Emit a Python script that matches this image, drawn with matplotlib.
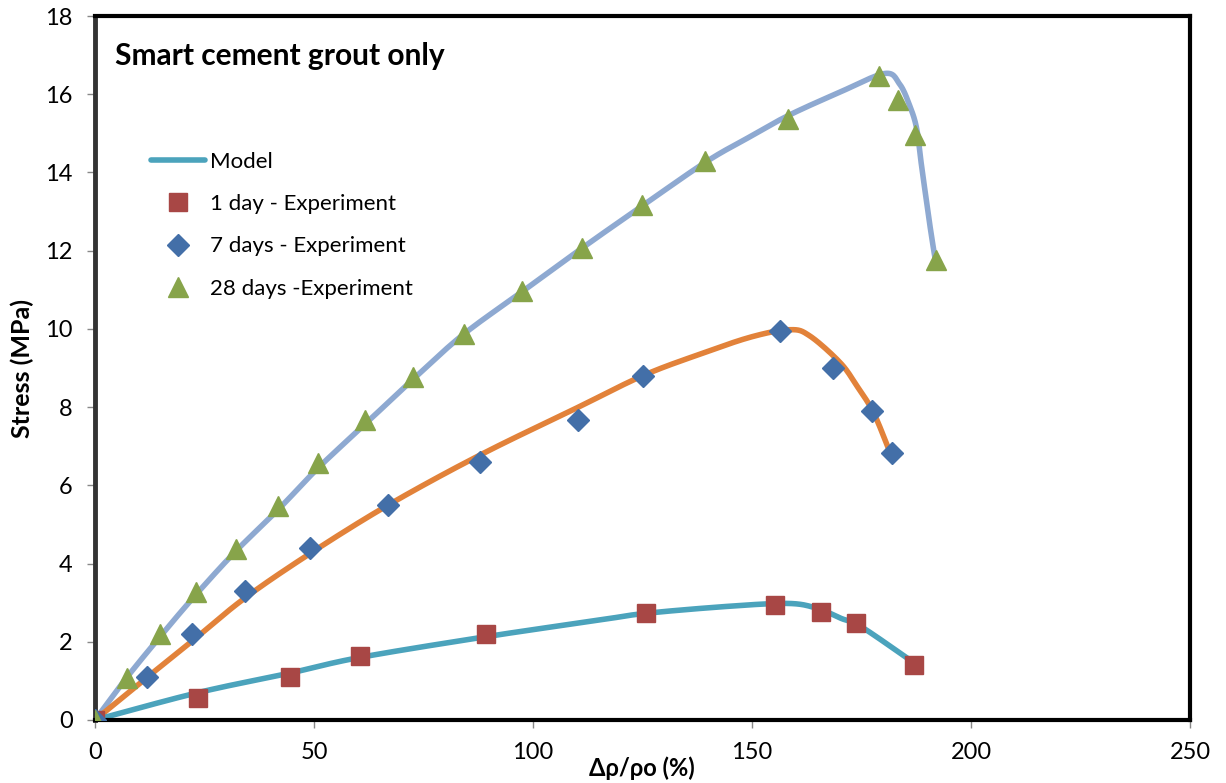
import numpy as np
import matplotlib
matplotlib.use("Agg")
import matplotlib.pyplot as plt
from matplotlib.lines import Line2D

plt.rcParams['font.family'] = ['Lato', 'DejaVu Sans']

# experiment data
x_1day = [0, 23.5, 44.5, 60.5, 89.3, 125.8, 155.2, 165.7, 173.7, 186.9]
y_1day = [0, 0.56, 1.10, 1.64, 2.20, 2.74, 2.94, 2.75, 2.47, 1.41]

x_7day = [0, 11.8, 22.2, 34.2, 49.1, 66.9, 87.9, 110.3, 125.1, 156.4, 168.4, 177.3, 181.9]
y_7day = [0, 1.10, 2.20, 3.30, 4.40, 5.50, 6.60, 7.67, 8.80, 9.95, 9.01, 7.90, 6.82]

x_28day = [0, 7.3, 14.9, 23.0, 32.2, 41.8, 50.9, 61.6, 72.6, 84.2, 97.5, 111.2, 124.9,
           139.3, 158.2, 179.0, 183.4, 187.2, 192.0]
y_28day = [0, 1.08, 2.20, 3.28, 4.38, 5.48, 6.58, 7.68, 8.78, 9.88, 10.97, 12.07, 13.17,
           14.28, 15.37, 16.47, 15.84, 14.95, 11.75]

# model curves
xm_1day = [0, 23.5, 44.5, 60.5, 89.3, 115.4, 126.0, 145.0, 158.4, 165.0, 170.3, 175.0, 186.5]
ym_1day = [0, 0.70, 1.20, 1.60, 2.13, 2.56, 2.73, 2.91, 2.98, 2.85, 2.60, 2.38, 1.50]

xm_7day = [0, 12, 22, 34, 49, 67, 88, 110, 125, 138, 150, 158.7, 163.2, 170.1, 173.9, 177.7, 181.3]
ym_7day = [0, 1.10, 2.00, 3.10, 4.25, 5.50, 6.78, 7.98, 8.80, 9.35, 9.80, 9.98, 9.82, 9.14, 8.55, 7.87, 6.90]

xm_28day = [0, 7, 15, 23, 32, 42, 51, 62, 73, 84, 97.5, 111, 125, 139.5, 149, 158.2, 170,
            180.3, 183.7, 186.0, 187.6, 188.7, 190.6, 191.8]
ym_28day = [0, 1.05, 2.15, 3.20, 4.30, 5.40, 6.45, 7.60, 8.75, 9.85, 10.95, 12.05, 13.15,
            14.27, 14.88, 15.45, 16.05, 16.53, 16.26, 15.71, 15.12, 14.18, 12.66, 11.80]

xticks = [0, 50, 100, 150, 200, 250]
yticks = [0, 2, 4, 6, 8, 10, 12, 14, 16, 18]


def smooth(xs, ys, n=16):
    # catmull-rom, like the smoothed lines of a spreadsheet chart
    p = np.column_stack([xs, ys]).astype(float)
    p = np.vstack([p[0], p, p[-1]])
    out = []
    for i in range(1, len(p) - 2):
        p0, p1, p2, p3 = p[i - 1], p[i], p[i + 1], p[i + 2]
        t = np.linspace(0, 1, n, endpoint=False)[:, None]
        c = 0.5 * ((2 * p1) + (-p0 + p2) * t + (2 * p0 - 5 * p1 + 4 * p2 - p3) * t ** 2
                   + (-p0 + 3 * p1 - 3 * p2 + p3) * t ** 3)
        out.append(c)
    out.append(p[-2][None, :])
    out = np.vstack(out)
    return out[:, 0], out[:, 1]


c_teal = '#4BA3BC'
c_orange = '#E2823A'
c_lblue = '#8EA9D1'
c_red = '#A84745'
c_blue = '#436FA8'
c_green = '#87A44A'

fig = plt.figure(figsize=(12.26, 7.83), dpi=100)
ax = fig.add_axes([95 / 1226, 1 - 720 / 783, 1095 / 1226, 704 / 783])

for xs, ys, col in [(xm_28day, ym_28day, c_lblue), (xm_7day, ym_7day, c_orange),
                    (xm_1day, ym_1day, c_teal)]:
    sx, sy = smooth(xs, ys)
    ax.plot(sx, sy, color=col, lw=4, solid_capstyle='round', zorder=2)

ax.plot(x_1day, y_1day, 's', color=c_red, ms=13, ls='none', zorder=3)
ax.plot(x_7day, y_7day, 'D', color=c_blue, ms=11, ls='none', zorder=3)
ax.plot(x_28day, y_28day, '^', color=c_green, ms=15, ls='none', zorder=3)

ax.set_xlim(0, 250)
ax.set_ylim(0, 18)
ax.set_xticks(xticks)
ax.set_yticks(yticks)
ax.tick_params(direction='out', length=6, width=1, color='#888888', labelsize=17)
ax.tick_params(axis='x', pad=10)
ax.tick_params(axis='y', pad=10)
for s in ['top', 'right', 'bottom']:
    ax.spines[s].set_linewidth(3)
    ax.spines[s].set_color('black')
ax.spines['left'].set_linewidth(3.5)
ax.spines['left'].set_color('#333333')

ax.set_xlabel('Δρ/ρo (%)', fontsize=17, fontweight='bold', va='center')
ax.xaxis.set_label_coords((642 - 95) / 1095, -48 / 704)
ax.set_ylabel('Stress (MPa)', fontsize=18, fontweight='bold', va='center')
ax.yaxis.set_label_coords(-73 / 1095, (720 - 369) / 704)

fig.text(115 / 1226, 1 - 56 / 783, 'Smart cement grout only', fontsize=21.5,
         fontweight='bold', va='center', ha='left')

handles = [
    Line2D([], [], color=c_teal, lw=4, solid_capstyle='round'),
    Line2D([], [], marker='s', color=c_red, ms=13, ls='none'),
    Line2D([], [], marker='D', color=c_blue, ms=11, ls='none'),
    Line2D([], [], marker='^', color=c_green, ms=15, ls='none'),
]
labels = ['Model', '1 day - Experiment', '7 days - Experiment', '28 days -Experiment']
fig.legend(handles, labels, loc='upper left', bbox_to_anchor=(151 / 1226, 1 - 152 / 783),
           frameon=False, fontsize=16, handlelength=2.45, handletextpad=0.2,
           labelspacing=1.0, borderpad=0, borderaxespad=0)

fig.savefig('out.png', dpi=100)
